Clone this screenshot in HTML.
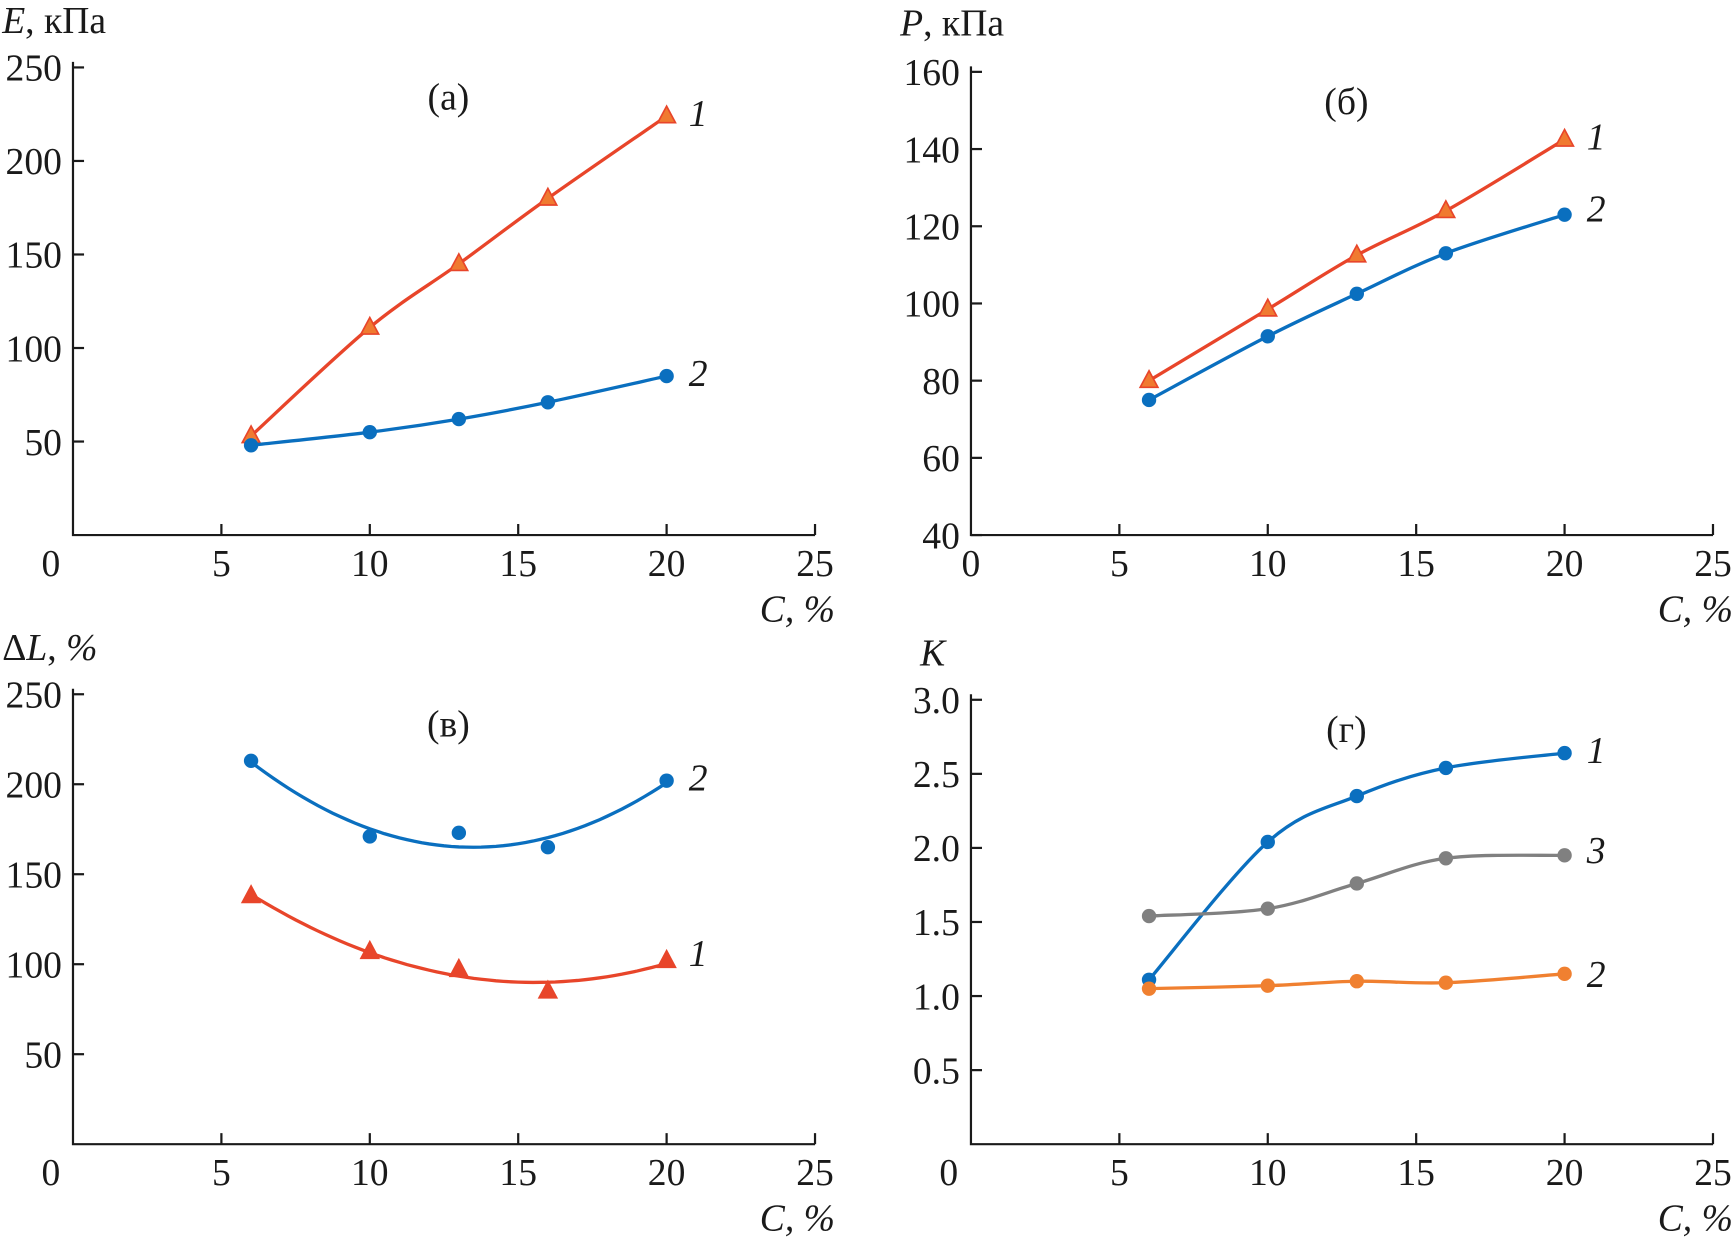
<!DOCTYPE html>
<html><head><meta charset="utf-8"><style>
html,body{margin:0;padding:0;background:#fff}
svg{display:block}
text{font-family:"Liberation Serif",serif;font-size:34px;fill:#1a1a1a}
</style></head><body>
<svg id="chart" width="1734" height="1247" viewBox="0 0 1568 1128" preserveAspectRatio="none" xmlns="http://www.w3.org/2000/svg"></svg>
<script>
const categories=[6,10,13,16,20];
const aSeries1=[53,111,145,180,224];
const aSeries2=[48,55,62,71,85];
const bSeries1=[80,98.5,112.5,124,142.5];
const bSeries2=[75,91.5,102.5,113,123];
const vSeries1=[138,107,97,85,102];
const vSeries2=[213,171,173,165,202];
const gSeries1=[1.11,2.04,2.35,2.54,2.64];
const gSeries2=[1.05,1.07,1.10,1.09,1.15];
const gSeries3=[1.54,1.59,1.76,1.93,1.95];
const xTicks=[0,5,10,15,20,25];
const aTicks=[50,100,150,200,250];
const bTicks=[40,60,80,100,120,140,160];
const vTicks=[50,100,150,200,250];
const gTicks=[0.5,1.0,1.5,2.0,2.5,3.0];

const NS="http://www.w3.org/2000/svg";
const svg=document.getElementById('chart');
function el(tag,attrs,parent){const e=document.createElementNS(NS,tag);for(const k in attrs)e.setAttribute(k,attrs[k]);(parent||svg).appendChild(e);return e;}
const RED="#e8452a",TRI="#f07a30",BLUE="#0a6fbf",GRAY="#808080",ORANGE="#f08030";

function catmull(pts){let d="M"+pts[0][0]+","+pts[0][1];
 for(let i=0;i<pts.length-1;i++){const p0=pts[i-1]||pts[i],p1=pts[i],p2=pts[i+1],p3=pts[i+2]||p2;
  const c1=[p1[0]+(p2[0]-p0[0])/6,p1[1]+(p2[1]-p0[1])/6],c2=[p2[0]-(p3[0]-p1[0])/6,p2[1]-(p3[1]-p1[1])/6];
  d+=" C"+c1+" "+c2+" "+p2;}return d;}
function quadFit(xs,ys){let S=[0,0,0,0,0],T=[0,0,0];xs.forEach((x,i)=>{for(let k=0;k<5;k++)S[k]+=x**k;for(let k=0;k<3;k++)T[k]+=ys[i]*x**k;});
 const M=[[S[0],S[1],S[2],T[0]],[S[1],S[2],S[3],T[1]],[S[2],S[3],S[4],T[2]]];
 for(let i=0;i<3;i++){for(let j=i+1;j<3;j++){const f=M[j][i]/M[i][i];for(let k=i;k<4;k++)M[j][k]-=f*M[i][k];}}
 const c=[0,0,0];for(let i=2;i>=0;i--){let s=M[i][3];for(let k=i+1;k<3;k++)s-=M[i][k]*c[k];c[i]=s/M[i][i];}return x=>c[0]+c[1]*x+c[2]*x*x;}

function panel(o){
 const g=el('g',{});
 
 
 const xs=v=>o.x0+(o.x1-o.x0)*v/25;
 const ys=v=>o.yB-(v-o.ymin)*(o.yB-o.yT)/(o.ymax-o.ymin);
 const ax=el('path',{d:`M${o.x0},${o.yT-5}V${o.yB}H${o.x1}`,stroke:"#1a1a1a","stroke-width":2,fill:"none"},g);
 
 xTicks.forEach(t=>{const x=xs(t);if(t>0)el('line',{x1:x,x2:x,y1:o.yB,y2:o.yB-10,stroke:"#1a1a1a","stroke-width":2},g);
  const tx=el('text',{x:(t===0?x+o.zeroDx:x),y:o.yB+37,"text-anchor":"middle"},g);tx.textContent=t;
  });
 o.ticks.forEach(t=>{const y=ys(t);el('line',{x1:o.x0,x2:o.x0+10,y1:y,y2:y,stroke:"#1a1a1a","stroke-width":2},g);
  const tx=el('text',{x:o.x0-10,y:y+12,"text-anchor":"end"},g);tx.textContent=o.fmt?t.toFixed(1):t;
  });
 const xt=el('text',{x:o.x1+18,y:o.yB+78,"text-anchor":"end","font-style":"italic"},g);xt.textContent="C, %";
 
 const yt=el('text',{x:o.ytx,y:o.yty},g);yt.innerHTML=o.ytitle;
 
 const pl=el('text',{x:(o.x0+o.x1)/2+4,y:o.yT+38,"text-anchor":"middle"},g);pl.textContent=o.label;
 
 o.series.forEach(s=>{
  const pts=categories.map((c,i)=>[xs(c),ys(s.data[i])]);
  let d;
  if(s.fit){const f=quadFit(categories,s.data);const p=[];for(let c=6;c<=20.001;c+=0.25)p.push(xs(c).toFixed(1)+","+ys(f(c)).toFixed(1));d="M"+p.join(" L");}
  else d=catmull(pts);
  const ln=el('path',{d:d,stroke:s.color,"stroke-width":3,fill:"none"},g);
  
  pts.forEach(p=>{let m;
   if(s.tri)m=el('path',{d:`M${p[0]},${p[1]-9}L${p[0]+8},${p[1]+6}L${p[0]-8},${p[1]+6}Z`,fill:s.mfill,stroke:s.color,"stroke-width":1.5},g);
   else m=el('circle',{cx:p[0],cy:p[1],r:6.5,fill:s.color},g);
   });
  const lb=el('text',{x:xs(20)+20,y:ys(s.data[4])+s.dy,"font-style":"italic"},g);lb.textContent=s.id;
  
 });
}
panel({name:'panel-a',x0:66,x1:737,yT:61,yB:484,ymin:0,ymax:250,ticks:aTicks,zeroDx:-20,label:"(а)",ytx:2,yty:30,ytitle:'<tspan font-style="italic">E</tspan>, кПа',
 series:[{id:"1",data:aSeries1,color:RED,tri:true,mfill:TRI,dy:9},{id:"2",data:aSeries2,color:BLUE,dy:9}]});
panel({name:'panel-b',x0:878,x1:1549,yT:65,yB:484,ymin:40,ymax:160,ticks:bTicks,zeroDx:0,label:"(б)",ytx:814,yty:32,ytitle:'<tspan font-style="italic">P</tspan>, кПа',
 series:[{id:"1",data:bSeries1,color:RED,tri:true,mfill:TRI,dy:9},{id:"2",data:bSeries2,color:BLUE,dy:6}]});
panel({name:'panel-v',x0:66,x1:737,yT:628,yB:1035,ymin:0,ymax:250,ticks:vTicks,zeroDx:-20,label:"(в)",ytx:2,yty:597,ytitle:'Δ<tspan font-style="italic">L</tspan>, <tspan font-style="italic">%</tspan>',
 series:[{id:"1",data:vSeries1,color:RED,tri:true,mfill:RED,fit:true,dy:5},{id:"2",data:vSeries2,color:BLUE,fit:true,dy:9}]});
panel({name:'panel-g',x0:878,x1:1549,yT:633,yB:1035,ymin:0,ymax:3,ticks:gTicks,zeroDx:-20,fmt:true,label:"(г)",ytx:832,yty:602,ytitle:'<tspan font-style="italic">K</tspan>',
 series:[{id:"1",data:gSeries1,color:BLUE,dy:9},{id:"3",data:gSeries3,color:GRAY,dy:7},{id:"2",data:gSeries2,color:ORANGE,dy:12}]});
</script>
</body></html>
